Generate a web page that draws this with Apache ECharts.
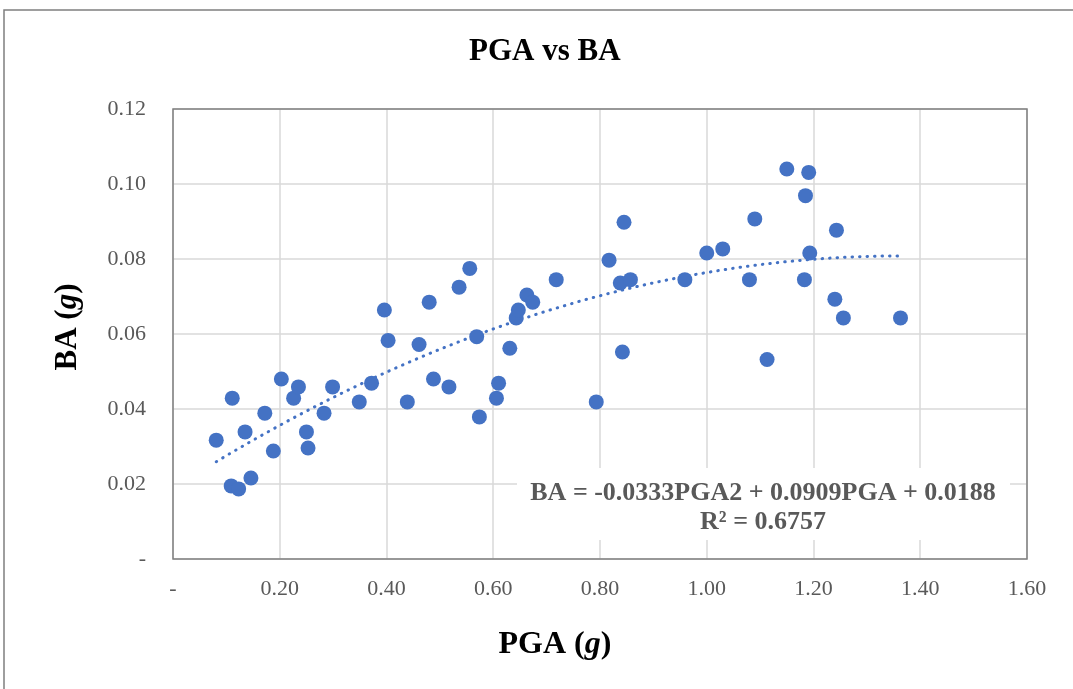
<!DOCTYPE html>
<html>
<head>
<meta charset="utf-8">
<script src="https://cdn.jsdelivr.net/npm/echarts@6/dist/echarts.min.js"></script>
<style>
  html, body { margin: 0; padding: 0; background: #fff; }
  #main { width: 1073px; height: 689px; }
</style>
</head>
<body>
<div id="main"></div>
<script>
const chart = echarts.init(document.getElementById('main'));

// PGA (g) and BA (g) pairs
const pga = [0.081, 0.111, 0.109, 0.123, 0.146, 0.135, 0.172, 0.188, 0.203, 0.226, 0.235, 0.250,
             0.253, 0.283, 0.299, 0.349, 0.372, 0.396, 0.403, 0.439, 0.461, 0.480, 0.488, 0.517,
             0.536, 0.556, 0.569, 0.574, 0.606, 0.610, 0.631, 0.643, 0.647, 0.663, 0.674, 0.718,
             0.793, 0.817, 0.845, 0.842, 0.838, 0.857, 0.959, 1.000, 1.030, 1.080, 1.090, 1.113,
             1.150, 1.191, 1.185, 1.193, 1.183, 1.243, 1.240, 1.256, 1.363];
const ba  = [0.0317, 0.0429, 0.0195, 0.0187, 0.0216, 0.0339, 0.0389, 0.0288, 0.0480, 0.0429, 0.0459, 0.0339,
             0.0296, 0.0389, 0.0459, 0.0419, 0.0469, 0.0664, 0.0583, 0.0419, 0.0572, 0.0685, 0.0480, 0.0459,
             0.0725, 0.0775, 0.0593, 0.0379, 0.0429, 0.0469, 0.0562, 0.0643, 0.0664, 0.0704, 0.0685, 0.0745,
             0.0419, 0.0797, 0.0898, 0.0552, 0.0736, 0.0745, 0.0745, 0.0816, 0.0827, 0.0745, 0.0907, 0.0532,
             0.1040, 0.1031, 0.0969, 0.0816, 0.0745, 0.0877, 0.0693, 0.0643, 0.0643];

// polynomial trendline shown on the chart: a*x^2 + b*x + c
const trendCoef = [-0.0333, 0.0909, 0.0188];
const trendRange = [0.081, 1.363];
const eqLines = ['BA = -0.0333PGA2 + 0.0909PGA + 0.0188', 'R² = 0.6757'];

const points = pga.map((x, i) => [x, ba[i]]);
const trend = [];
for (let i = 0; i <= 60; i++) {
  const x = trendRange[0] + (trendRange[1] - trendRange[0]) * i / 60;
  trend.push([x, trendCoef[0] * x * x + trendCoef[1] * x + trendCoef[2]]);
}

const serif = 'Liberation Serif, Times New Roman, serif';
const dashFmt = v => v === 0 ? '-' : v.toFixed(2);
const nameRich = size => ({
  b: { fontFamily: serif, fontWeight: 'bold', fontSize: size, color: '#000' },
  i: { fontFamily: serif, fontWeight: 'bold', fontStyle: 'italic', fontSize: size, color: '#000' }
});

const option = {
  animation: false,
  backgroundColor: '#fff',
  textStyle: { fontFamily: serif },
  title: {
    text: 'PGA vs BA',
    left: 464,
    top: 31,
    textStyle: { fontFamily: serif, fontWeight: 'bold', fontSize: 31, color: '#000' }
  },
  grid: { left: 173, right: 46, top: 109, bottom: 130 },
  xAxis: {
    type: 'value',
    min: 0, max: 1.6, interval: 0.2,
    name: '{b|PGA (}{i|g}{b|)}',
    nameLocation: 'middle',
    nameGap: 70,
    nameTextStyle: { rich: nameRich(32), padding: [0, 90, 0, 0] },
    axisLine: { show: false },
    axisTick: { show: false },
    axisLabel: { formatter: dashFmt, fontSize: 22, color: '#595959', margin: 19 },
    splitLine: { lineStyle: { color: '#d9d9d9', width: 1.5 } }
  },
  yAxis: {
    type: 'value',
    min: 0, max: 0.12, interval: 0.02,
    name: '{b|BA (}{i|g}{b|)}',
    nameLocation: 'middle',
    nameGap: 90,
    nameTextStyle: { rich: nameRich(31), padding: [0, 0, 0, 14] },
    axisLine: { show: false },
    axisTick: { show: false },
    axisLabel: { formatter: dashFmt, fontSize: 22, color: '#595959', margin: 27 },
    splitLine: { lineStyle: { color: '#d9d9d9', width: 1.5 } }
  },
  graphic: [
    {
      type: 'rect', z: 100, silent: true,
      shape: { x: 4, y: 10, width: 1100, height: 720 },
      style: { fill: 'none', stroke: '#7f7f7f', lineWidth: 1.5 }
    },
    {
      type: 'rect', z: 1, silent: true,
      shape: { x: 173, y: 109, width: 854, height: 450 },
      style: { fill: 'none', stroke: '#808080', lineWidth: 1.5 }
    },
    {
      type: 'rect', z: 2, silent: true,
      shape: { x: 517, y: 468, width: 493, height: 72 },
      style: { fill: '#fff' }
    },
    {
      type: 'text', z: 3, silent: true,
      x: 763, y: 479,
      style: {
        text: eqLines.join('\n'),
        align: 'center',
        fontFamily: serif, fontWeight: 'bold', fontSize: 26,
        lineHeight: 29, fill: '#595959'
      }
    }
  ],
  series: [
    {
      type: 'line',
      data: trend,
      showSymbol: false,
      smooth: false,
      z: 3,
      lineStyle: { color: '#4472c4', width: 3, type: [0.5, 7], cap: 'round' }
    },
    {
      type: 'scatter',
      data: points,
      symbolSize: 15,
      z: 4,
      itemStyle: { color: '#4472c4', opacity: 1 }
    }
  ]
};

chart.setOption(option);
</script>
</body>
</html>
